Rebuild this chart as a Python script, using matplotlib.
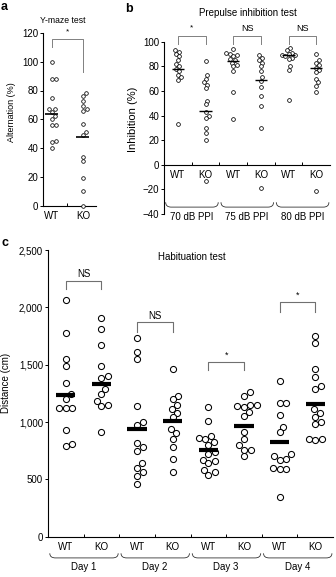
import numpy as np
import matplotlib
matplotlib.use('Agg')
import matplotlib.pyplot as plt
from matplotlib.path import Path
from matplotlib.patches import PathPatch
import matplotlib.ticker as mticker

plt.rcParams['font.family'] = ['Liberation Sans', 'DejaVu Sans']

# ---------------- data ----------------
# Panel a: Y-maze test
a_groups = ['WT', 'KO']
a_wt = [100, 88, 88, 75, 67, 67, 65, 62, 60, 56, 56, 45, 44, 40]
a_ko = [78, 76, 73, 69, 67, 66, 57, 51, 49, 34, 31, 19, 10, 0]
a_means = [64, 48]
a_sig = '*'

# Panel b: Prepulse inhibition test
b_groups = ['WT', 'KO', 'WT', 'KO', 'WT', 'KO']
b_conditions = ['70 dB PPI', '75 dB PPI', '80 dB PPI']
b_wt70 = [93, 92, 90, 88, 85, 82, 80, 78, 76, 73, 71, 69, 33]
b_ko70 = [84, 73, 70, 67, 65, 62, 52, 49, 43, 40, 38, 30, 26, 20, -13]
b_wt75 = [94, 91, 90, 89, 88, 86, 85, 83, 81, 80, 76, 59, 37]
b_ko75 = [89, 87, 85, 83, 80, 76, 71, 68, 63, 56, 48, 30, -19]
b_wt80 = [95, 93, 91, 90, 89, 89, 88, 87, 86, 80, 77, 53]
b_ko80 = [90, 85, 83, 81, 79, 77, 75, 70, 67, 64, 59, -21]
b_means = [78, 44, 84, 69, 89, 79]
b_sig = ['*', 'NS', 'NS']

# Panel c: Habituation test
c_groups = ['WT', 'KO'] * 4
c_days = ['Day 1', 'Day 2', 'Day 3', 'Day 4']
c_wt1 = [2060, 1780, 1550, 1490, 1340, 1240, 1200, 1120, 1120, 1120, 930, 810, 790]
c_ko1 = [1910, 1810, 1670, 1490, 1400, 1380, 1290, 1240, 1180, 1150, 1140, 910]
c_wt2 = [1730, 1610, 1550, 1140, 1000, 970, 820, 780, 750, 640, 600, 560, 530, 460]
c_ko2 = [1460, 1230, 1200, 1150, 1110, 1080, 1040, 940, 900, 850, 780, 680, 560]
c_wt3 = [1130, 1010, 880, 860, 850, 830, 800, 740, 720, 670, 660, 640, 580, 560, 540]
c_ko3 = [1260, 1230, 1150, 1150, 1140, 1130, 1090, 1050, 910, 850, 800, 760, 760, 700]
c_wt4 = [1360, 1170, 1170, 1060, 960, 910, 720, 700, 680, 670, 600, 590, 590, 350]
c_ko4 = [1750, 1690, 1460, 1390, 1310, 1290, 1110, 1080, 1040, 1000, 980, 850, 850, 840]
c_means = [1236, 1335, 937, 1010, 756, 966, 823, 1160]
c_sig = ['NS', 'NS', '*', '*']
c_sig_top = [2234, 1868, 1521, 2045]
c_sig_drop = [2158, 1789, 1455, 1963]

# ---------------- figure ----------------
W, H = 336, 577
fig = plt.figure(figsize=(W / 100, H / 100), dpi=100)


def axes_px(left, top, right, bottom):
    return fig.add_axes([left / W, 1 - bottom / H, (right - left) / W, (bottom - top) / H])


def ftext(x, y, s, **kw):
    fig.text(x / W, 1 - y / H, s, **kw)


def swarm_x(ax, x0, values, diam):
    vals = np.asarray(values, float)
    pts = ax.transData.transform(np.column_stack([np.full(len(vals), x0), vals]))
    ys = pts[:, 1]
    order = np.argsort(ys)
    placed = []
    offs = np.zeros(len(vals))
    for i in order:
        y = ys[i]
        cands = [0.0]
        for (px, py) in placed:
            dy = y - py
            if abs(dy) < diam:
                dx = np.sqrt(diam ** 2 - dy ** 2)
                cands += [px + dx, px - dx]
        cands = sorted(cands, key=abs)
        chosen = cands[-1]
        for c in cands:
            if all((c - px) ** 2 + (y - py) ** 2 >= diam ** 2 - 1e-6 for px, py in placed):
                chosen = c
                break
        placed.append((chosen, y))
        offs[i] = chosen
    inv = ax.transData.inverted()
    return inv.transform(np.column_stack([pts[:, 0] + offs, ys]))[:, 0]


def brace(ax, x0, x1, y_top, y_bot, hook, color='#333333', lw=0.6):
    verts = [(x0, y_top), (x0, y_bot), (x0 + hook, y_bot),
             (x1 - hook, y_bot), (x1, y_bot), (x1, y_top)]
    codes = [Path.MOVETO, Path.CURVE3, Path.CURVE3, Path.LINETO, Path.CURVE3, Path.CURVE3]
    p = PathPatch(Path(verts, codes), fc='none', ec=color, lw=lw,
                  transform=ax.get_xaxis_transform(), clip_on=False)
    ax.add_patch(p)


def bracket(ax, x0, x1, top, d0, d1, label, ly, fs, color='#808080', lw=0.7):
    ax.plot([x0, x0, x1, x1], [d0, top, top, d1], color=color, lw=lw, clip_on=False)
    ax.text((x0 + x1) / 2, ly, label, ha='center', va='center', fontsize=fs, clip_on=False)


def style_axes(ax, fs):
    for s in ['top', 'right']:
        ax.spines[s].set_visible(False)
    for s in ['left', 'bottom']:
        ax.spines[s].set_linewidth(0.8)
    ax.tick_params(axis='y', direction='out', length=2, width=0.7, pad=1.5, labelsize=fs)
    ax.tick_params(axis='x', which='major', length=0, pad=4, labelsize=fs)
    ax.tick_params(axis='x', which='minor', direction='in', length=2, width=0.7)


# ---------- Panel a ----------
axa = axes_px(43, 33, 96, 205.5)
axa.set_xlim(-0.29, 1.42)
axa.set_ylim(0, 120)
style_axes(axa, 7)
axa.set_yticks(np.arange(0, 121, 20))
axa.set_xticks([0, 1])
axa.set_xticklabels(a_groups)
axa.set_xticks([0.5], minor=True)
for i, vals in enumerate([a_wt, a_ko]):
    xs = swarm_x(axa, i, vals, 3.9)
    axa.plot(xs, vals, 'o', mfc='white', mec='black', ms=2.6, mew=0.55, clip_on=False, zorder=3)
    axa.hlines(a_means[i], i - 0.21, i + 0.21, color='black', lw=1.2, zorder=4)
bracket(axa, 0, 1, 116, 110, 93, a_sig, 120.5, 6)
ftext(4, 7, 'a', fontsize=9, fontweight='bold', ha='center', va='center')
ftext(63, 20.5, 'Y-maze test', fontsize=6.2, ha='center', va='center')
ftext(11.5, 112, 'Alternation (%)', fontsize=6.5, rotation=90, ha='center', va='center')

# ---------- Panel b ----------
axb = axes_px(164, 41.7, 330, 214)
axb.set_xlim(-0.5, 5.5)
axb.set_ylim(-40, 100)
style_axes(axb, 7)
axb.spines['bottom'].set_position(('data', 0))
axb.set_yticks(np.arange(-40, 101, 20))
axb.set_xticks(range(6))
axb.set_xticklabels(b_groups)
axb.set_xticks([0.5, 1.5, 2.5, 3.5, 4.5], minor=True)
b_series = [b_wt70, b_ko70, b_wt75, b_ko75, b_wt80, b_ko80]
for i, vals in enumerate(b_series):
    xs = swarm_x(axb, i, vals, 4.0)
    axb.plot(xs, vals, 'o', mfc='white', mec='black', ms=2.7, mew=0.55, clip_on=False, zorder=3)
    axb.hlines(b_means[i], i - 0.22, i + 0.22, color='black', lw=1.0, zorder=4)
for g in range(3):
    bracket(axb, 2 * g, 2 * g + 1, 105, 98, 98, b_sig[g], 111, 6.5 if b_sig[g] != '*' else 6)
    brace(axb, 2 * g - 0.44, 2 * g + 1.46, 0.068, 0.04, 0.2)
    axb.text(2 * g + 0.5, -0.015, b_conditions[g], transform=axb.get_xaxis_transform(),
             ha='center', va='center', fontsize=7)
ftext(129, 9, 'b', fontsize=9, fontweight='bold', ha='center', va='center')
ftext(247.5, 13.5, 'Prepulse inhibition test', fontsize=7, ha='center', va='center')
ftext(132.5, 119.5, 'Inhibition (%)', fontsize=8, rotation=90, ha='center', va='center')

# ---------- Panel c ----------
axc = axes_px(48, 250, 333, 536.7)
axc.set_xlim(-0.5, 7.5)
axc.set_ylim(0, 2500)
style_axes(axc, 7)
axc.set_yticks(np.arange(0, 2501, 500))
axc.yaxis.set_major_formatter(mticker.FuncFormatter(lambda v, p: f'{int(v):,}'))
axc.set_xticks(range(8))
axc.set_xticklabels(c_groups)
axc.set_xticks(np.arange(0.5, 7, 1), minor=True)
c_series = [c_wt1, c_ko1, c_wt2, c_ko2, c_wt3, c_ko3, c_wt4, c_ko4]
for i, vals in enumerate(c_series):
    xs = swarm_x(axc, i, vals, 6.6)
    axc.plot(xs, vals, 'o', mfc='white', mec='black', ms=4.4, mew=0.75, clip_on=False, zorder=3)
    axc.hlines(c_means[i], i - 0.27, i + 0.27, color='black', lw=3.0, zorder=4)
for g in range(4):
    top = c_sig_top[g]
    lab_y = top + 60
    bracket(axc, 2 * g, 2 * g + 1, top, c_sig_drop[g], c_sig_drop[g], c_sig[g], lab_y,
            7 if c_sig[g] != '*' else 6.5, color='#707070', lw=0.8)
    brace(axc, 2 * g - 0.45, 2 * g + 1.47, -0.058, -0.074, 0.16)
    axc.text(2 * g + 0.5, -0.106, c_days[g], transform=axc.get_xaxis_transform(),
             ha='center', va='center', fontsize=7)
axc.text(192, 256.7, '', fontsize=1)
ftext(5, 243, 'c', fontsize=9, fontweight='bold', ha='center', va='center')
ftext(192, 256.7, 'Habituation test', fontsize=7, ha='center', va='center')
ftext(6.5, 383, 'Distance (cm)', fontsize=7, rotation=90, ha='center', va='center')

fig.savefig('out.png', dpi=100)
